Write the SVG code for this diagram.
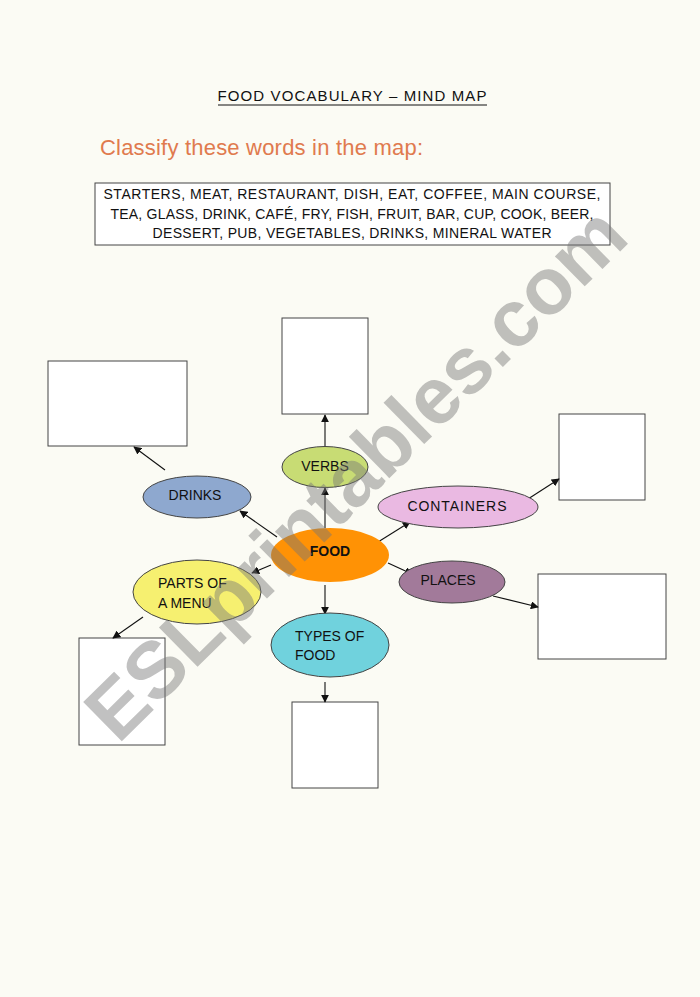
<svg xmlns="http://www.w3.org/2000/svg" width="700" height="997" viewBox="0 0 700 997">
<style>
.t{font-family:"Liberation Sans",Arial,sans-serif;fill:#111;}
.lbl{font-family:"Liberation Sans",Arial,sans-serif;font-size:14px;fill:#111;}
.box{fill:#fff;stroke:#444;stroke-width:1;}
.el{stroke:#444;stroke-width:1;}
.c line{stroke:#111;stroke-width:1.1;marker-end:url(#ah);}
</style>
<defs>
<marker id="ah" viewBox="0 0 10 10" refX="9" refY="5" markerWidth="8" markerHeight="8" markerUnits="userSpaceOnUse" orient="auto">
<path d="M0,0 L10,5 L0,10 z" fill="#111"/>
</marker>
</defs>
<rect width="700" height="997" fill="#fbfbf4"/>
<g id="title">
<text class="t" x="352" y="101" font-size="15" text-anchor="middle" textLength="269">FOOD VOCABULARY – MIND MAP</text>
<line x1="218" y1="105" x2="487" y2="105" stroke="#111" stroke-width="1"/>
</g>
<g id="instruction">
<text x="100" y="155" font-family="'Liberation Sans',Arial,sans-serif" font-size="22" fill="#e07a4e" textLength="323">Classify these words in the map:</text>
</g>
<g id="wordbox">
<rect x="95" y="183" width="515" height="62" class="box"/>
<text class="t" x="352" y="199" font-size="14" text-anchor="middle" textLength="497">STARTERS, MEAT, RESTAURANT, DISH, EAT, COFFEE, MAIN COURSE,</text>
<text class="t" x="352" y="219" font-size="14" text-anchor="middle" textLength="483">TEA, GLASS, DRINK, CAFÉ, FRY, FISH, FRUIT, BAR, CUP, COOK, BEER,</text>
<text class="t" x="352" y="238" font-size="14" text-anchor="middle" textLength="399">DESSERT, PUB, VEGETABLES, DRINKS, MINERAL WATER</text>
</g>
<g id="boxes">
<rect id="box-verbs" x="282" y="318" width="86" height="96" class="box"/>
<rect id="box-drinks" x="48" y="361" width="139" height="85" class="box"/>
<rect id="box-containers" x="559" y="414" width="86" height="86" class="box"/>
<rect id="box-places" x="538" y="574" width="128" height="85" class="box"/>
<rect id="box-parts" x="79" y="638" width="86" height="107" class="box"/>
<rect id="box-types" x="292" y="702" width="86" height="86" class="box"/>
</g>
<g id="connectors" class="c">
<line x1="325" y1="528" x2="325" y2="488"/>
<line x1="325" y1="447" x2="325" y2="415"/>
<line x1="277" y1="537" x2="240" y2="511"/>
<line x1="165" y1="470" x2="134" y2="447"/>
<line x1="378" y1="542" x2="410" y2="522"/>
<line x1="528" y1="499" x2="559" y2="479"/>
<line x1="388" y1="563" x2="412" y2="574"/>
<line x1="493" y1="596" x2="538" y2="607"/>
<line x1="271" y1="565" x2="252" y2="573"/>
<line x1="143" y1="617" x2="113" y2="638"/>
<line x1="325" y1="585" x2="325" y2="614"/>
<line x1="325" y1="682" x2="325" y2="702"/>
</g>
<g id="verbs">
<ellipse cx="325" cy="467" rx="43" ry="20.5" fill="#c8dc74" class="el"/>
<text class="lbl" x="325" y="471" text-anchor="middle">VERBS</text>
</g>
<g id="drinks">
<ellipse cx="197" cy="497" rx="54" ry="21" fill="#8ea8cf" class="el"/>
<text class="lbl" x="195" y="500" text-anchor="middle">DRINKS</text>
</g>
<g id="containers">
<ellipse cx="458" cy="507" rx="80" ry="21" fill="#eab9e2" class="el"/>
<text class="lbl" x="457" y="511" text-anchor="middle" textLength="99">CONTAINERS</text>
</g>
<g id="places">
<ellipse cx="452" cy="582" rx="53" ry="21" fill="#a27a9a" class="el"/>
<text class="lbl" x="448" y="585" text-anchor="middle">PLACES</text>
</g>
<g id="food">
<ellipse cx="330" cy="555" rx="59" ry="27" fill="#ff9205"/>
<text class="lbl" x="330" y="556" text-anchor="middle" font-weight="bold" font-size="15">FOOD</text>
</g>
<g id="parts">
<ellipse cx="197" cy="592" rx="64" ry="32" fill="#f6f070" class="el"/>
<text class="lbl" x="158" y="588">PARTS OF</text>
<text class="lbl" x="158" y="608">A MENU</text>
</g>
<g id="types">
<ellipse cx="330" cy="645" rx="59" ry="32" fill="#70d2dd" class="el"/>
<text class="lbl" x="295" y="641">TYPES OF</text>
<text class="lbl" x="295" y="660">FOOD</text>
</g>
<g id="watermark" opacity="0.45">
<text x="0" y="0" transform="translate(118,745) rotate(-44.5)" font-family="'Liberation Sans',Arial,sans-serif" font-weight="bold" font-size="80" fill="#777" textLength="720">ESLprintables.com</text>
</g>
</svg>
